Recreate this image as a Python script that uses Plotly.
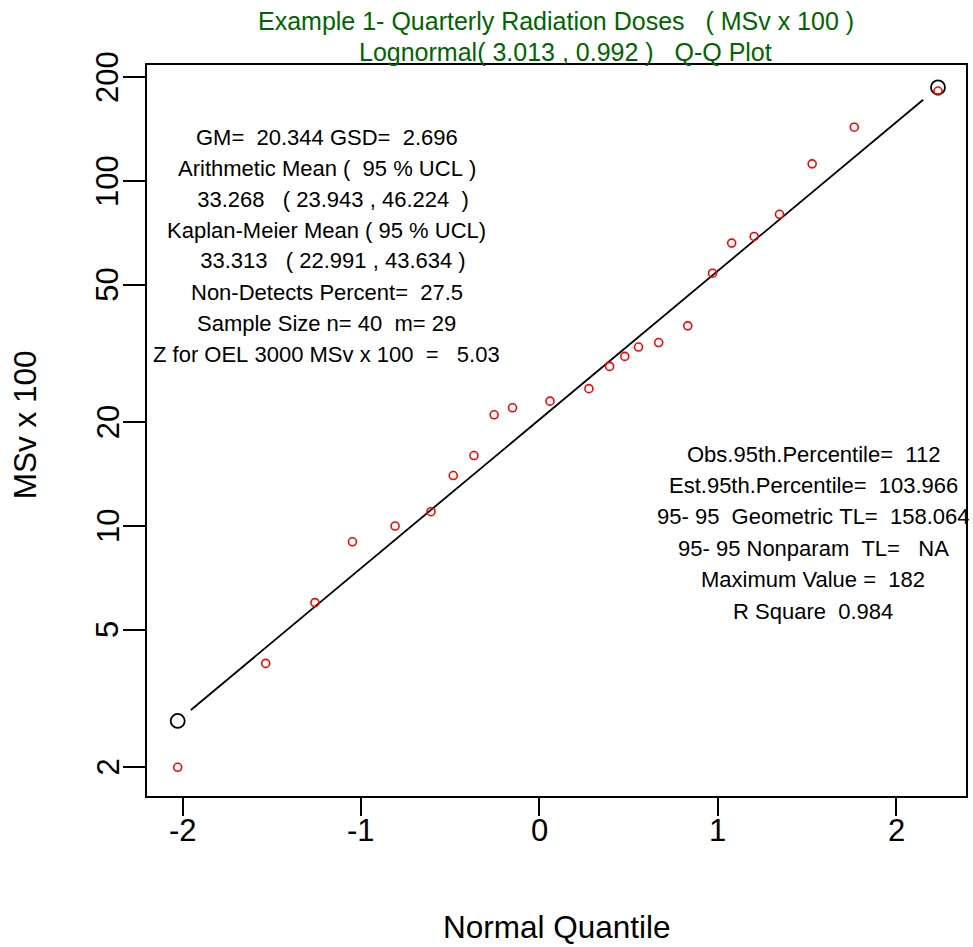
import plotly.graph_objects as go
import numpy as np

# ---------------- data ----------------
normal_quantiles = [-2.027, -1.534, -1.258, -1.048, -0.809, -0.608, -0.483, -0.367,
                    -0.254, -0.151, 0.059, 0.277, 0.393, 0.478, 0.555, 0.668,
                    0.831, 0.970, 1.077, 1.203, 1.345, 1.528, 1.764, 2.233]
doses = [2, 4, 6, 9, 10, 11, 14, 16, 21, 22, 23, 25, 29, 31, 33, 34,
         38, 54, 66, 69, 80, 112, 143, 182]

meanlog = 3.013
sdlog = 0.992
end_quantiles = [-2.027, 2.233]        # circled ends of the fitted line
line_quantiles = [-1.953, 2.150]       # drawn segment of the fitted line

x_ticks = [-2, -1, 0, 1, 2]
x_tick_labels = ["-2", "-1", "0", "1", "2"]
y_ticks = [2, 5, 10, 20, 50, 100, 200]
y_tick_labels = ["2", "5", "10", "20", "50", "100", "200"]

title_lines = ["Example 1- Quarterly Radiation Doses   ( MSv x 100 )",
               "Lognormal( 3.013 , 0.992 )   Q-Q Plot"]
left_stats = ["GM=  20.344 GSD=  2.696",
              "Arithmetic Mean (  95 % UCL )",
              "  33.268   ( 23.943 , 46.224  )",
              "Kaplan-Meier Mean ( 95 % UCL)",
              "  33.313   ( 22.991 , 43.634 )",
              "Non-Detects Percent=  27.5",
              "Sample Size n= 40  m= 29",
              "Z for OEL 3000 MSv x 100  =   5.03"]
right_stats = ["Obs.95th.Percentile=  112",
               "Est.95th.Percentile=  103.966",
               "95- 95  Geometric TL=  158.064",
               "95- 95 Nonparam  TL=   NA",
               "Maximum Value =  182",
               "R Square  0.984"]

# ---------------- layout geometry ----------------
W, H = 973, 947
L, R, T, B = 147, 5, 65, 151
PW = W - L - R
PH = H - T - B
FONT = "Liberation Sans, Arial, sans-serif"


def px(xp):
    return (xp - L) / PW


def py(yp):
    return 1 - (yp - T) / PH


def nb(s):
    return s.replace(" ", "\u00a0")


fit = lambda q: np.exp(meanlog + sdlog * np.asarray(q))

fig = go.Figure()
fig.add_trace(go.Scatter(
    x=line_quantiles, y=fit(line_quantiles), mode="lines",
    line=dict(color="black", width=1.8), showlegend=False, hoverinfo="skip"))
fig.add_trace(go.Scatter(
    x=end_quantiles, y=fit(end_quantiles), mode="markers",
    marker=dict(symbol="circle-open", size=14, color="black",
                line=dict(color="black", width=1.8)),
    showlegend=False))
fig.add_trace(go.Scatter(
    x=normal_quantiles, y=doses, mode="markers",
    marker=dict(symbol="circle-open", size=8, color="red",
                line=dict(color="red", width=1.6)),
    showlegend=False))

annotations = []
# titles
for t, xp, yp in zip(title_lines, [557, 567], [21, 52]):
    annotations.append(dict(text=nb(t), x=px(xp), y=py(yp), xref="paper", yref="paper",
                            xanchor="center", yanchor="middle", showarrow=False,
                            font=dict(family=FONT, size=25, color="#006400")))
# stats blocks
for i, s in enumerate(left_stats):
    annotations.append(dict(text=nb(s), x=px(327), y=py(137 + 31.0 * i), xref="paper",
                            yref="paper", xanchor="center", yanchor="middle",
                            showarrow=False, font=dict(family=FONT, size=22, color="black")))
for i, s in enumerate(right_stats):
    annotations.append(dict(text=nb(s), x=px(815), y=py(454 + 31.4 * i), xref="paper",
                            yref="paper", xanchor="center", yanchor="middle",
                            showarrow=False, font=dict(family=FONT, size=22, color="black")))
# tick labels
for v, lab in zip(x_ticks, x_tick_labels):
    annotations.append(dict(text=lab, x=v, y=py(831), xref="x", yref="paper",
                            xanchor="center", yanchor="middle", showarrow=False,
                            font=dict(family=FONT, size=31, color="black")))
for v, lab in zip(y_ticks, y_tick_labels):
    annotations.append(dict(text=lab, x=px(108), y=np.log10(v), xref="paper", yref="y",
                            xanchor="center", yanchor="middle", showarrow=False,
                            textangle=-90, font=dict(family=FONT, size=31, color="black")))
# axis titles
annotations.append(dict(text="Normal Quantile", x=px(557.5), y=py(927), xref="paper",
                        yref="paper", xanchor="center", yanchor="middle", showarrow=False,
                        font=dict(family=FONT, size=31.5, color="black")))
annotations.append(dict(text=nb("MSv x 100"), x=px(25), y=py(425), xref="paper",
                        yref="paper", xanchor="center", yanchor="middle", showarrow=False,
                        textangle=-90, font=dict(family=FONT, size=31.5, color="black")))

fig.update_layout(
    width=W, height=H,
    margin=dict(l=L, r=R, t=T, b=B, pad=0),
    paper_bgcolor="white", plot_bgcolor="white",
    font=dict(family=FONT, color="black"),
    annotations=annotations,
    xaxis=dict(range=[-2.199, 2.39], tickvals=x_ticks, showticklabels=False,
               ticks="outside", ticklen=18, tickwidth=1.5, tickcolor="black",
               showline=True, linecolor="black", linewidth=2, mirror=True,
               showgrid=False, zeroline=False),
    yaxis=dict(type="log", range=[0.2179, 2.3355], tickvals=y_ticks, showticklabels=False,
               ticks="outside", ticklen=22, tickwidth=1.5, tickcolor="black",
               showline=True, linecolor="black", linewidth=2, mirror=True,
               showgrid=False, zeroline=False),
)

fig.write_html("out.html")
